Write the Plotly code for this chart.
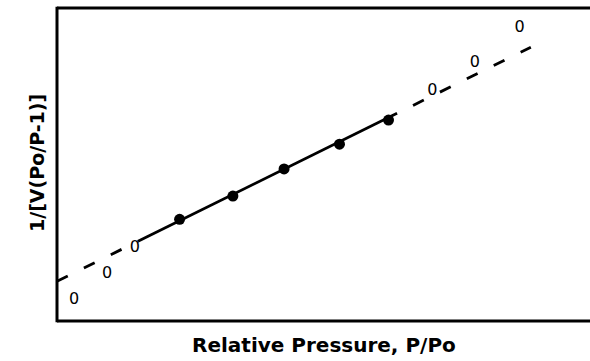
import numpy as np
import plotly.graph_objects as go

# Data (relative pressure P/Po, BET transform in arbitrary units)
open_x = [0.016, 0.047, 0.073, 0.352, 0.392, 0.434]
open_y = [0.067, 0.150, 0.234, 0.736, 0.823, 0.935]
fill_x = [0.115, 0.165, 0.213, 0.265, 0.311]
fill_y = [0.325, 0.399, 0.486, 0.565, 0.642]

# Linear BET fit (slope, intercept) and the ranges it is drawn over
fit_slope = 1.682
fit_intercept = 0.127
solid_range = [0.076, 0.319]
dash_left_range = [0.0, 0.076]
dash_right_range = [0.334, 0.4445]

x_title = "Relative Pressure, P/Po"
y_title = "1/[V(Po/P-1)]"


def fit_line(r):
    xs = np.array(r)
    return xs, fit_intercept + fit_slope * xs


fig = go.Figure()

for r, dash in [(dash_left_range, "12px,18px"), (dash_right_range, "12px,18px"),
                (solid_range, "solid")]:
    xs, ys = fit_line(r)
    fig.add_trace(go.Scatter(x=xs, y=ys, mode="lines",
                             line=dict(color="black", width=2.8, dash=dash),
                             hoverinfo="skip", showlegend=False))

fig.add_trace(go.Scatter(x=fill_x, y=fill_y, mode="markers",
                         marker=dict(symbol="circle", size=11, color="black"),
                         showlegend=False))
fig.add_trace(go.Scatter(x=open_x, y=open_y, mode="text", text=["0"] * len(open_x),
                         textposition="middle center",
                         textfont=dict(family="DejaVu Sans", size=16, color="black"),
                         showlegend=False))

frame = dict(color="black", width=3)
fig.update_layout(
    width=590, height=361,
    margin=dict(l=57, r=0, t=8, b=40),
    paper_bgcolor="white", plot_bgcolor="white",
    xaxis=dict(range=[0, 0.5], showline=False, showgrid=False, zeroline=False,
               showticklabels=False, ticks=""),
    yaxis=dict(range=[0, 1], showline=False, showgrid=False, zeroline=False,
               showticklabels=False, ticks=""),
    shapes=[
        dict(type="line", xref="paper", yref="paper", x0=0, x1=1.2, y0=1, y1=1, line=frame),
        dict(type="line", xref="paper", yref="paper", x0=0, x1=1.2, y0=0, y1=0, line=frame),
        dict(type="line", xref="paper", yref="paper", x0=0, x1=0, y0=-0.004, y1=1.004, line=frame),
    ],
    annotations=[
        dict(text=x_title, xref="paper", yref="paper", x=0.501, y=-0.0767,
             xanchor="center", yanchor="middle", showarrow=False,
             font=dict(family="DejaVu Sans", size=20, color="black", weight="bold")),
        dict(text=y_title, xref="paper", yref="paper", x=-0.0375, y=0.5048,
             xanchor="center", yanchor="middle", showarrow=False, textangle=-90,
             font=dict(family="DejaVu Sans", size=19, color="black", weight="bold")),
    ],
)

fig.write_html("out.html")
